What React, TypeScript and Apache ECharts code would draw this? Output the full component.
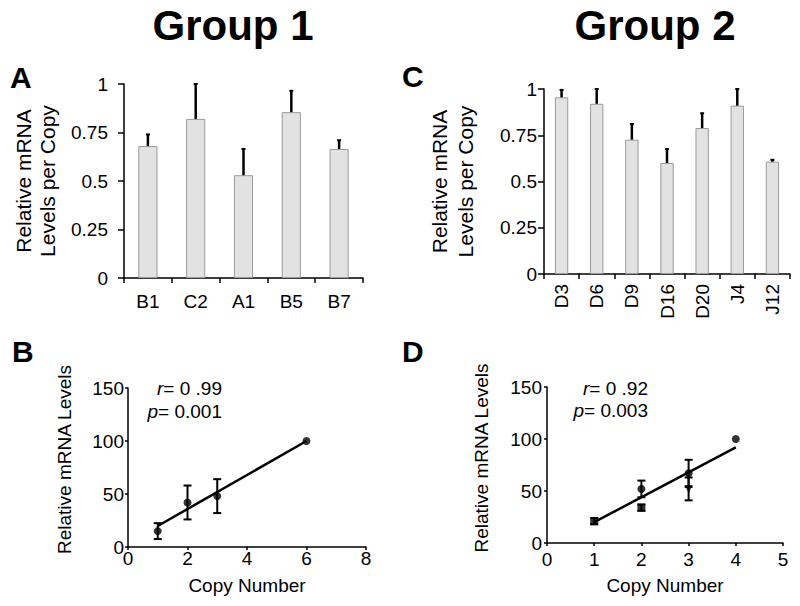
import React, { useEffect, useRef } from "react";
import * as echarts from "echarts";

// ---- Data ----
const catsA = ["B1", "C2", "A1", "B5", "B7"];
const valsA = [0.68, 0.82, 0.53, 0.855, 0.665];
const errA = [0.06, 0.18, 0.135, 0.11, 0.045];

const catsC = ["D3", "D6", "D9", "D16", "D20", "J4", "J12"];
const valsC = [0.955, 0.92, 0.726, 0.6, 0.789, 0.91, 0.607];
const errC = [0.04, 0.08, 0.085, 0.075, 0.08, 0.09, 0.01];

const copyB = [1, 2, 3, 6];
const levelB = [15, 42, 48, 100];
const errB = [7.5, 16, 16, 0];
const fitBx = [1, 6];
const fitBy = [19.8, 100];

const copyD = [1, 2, 2, 3, 3, 4];
const levelD = [21, 52, 34, 67, 52, 100];
const errD = [3, 8, 3, 13, 11, 0];
const shapeD = ["rect", "circle", "rect", "circle", "triangle", "circle"];
const fitDx = [1, 4];
const fitDy = [20, 92];

const barTicks = { min: 0, max: 1, interval: 0.25 };
const tickB = { min: 0, max: 8, interval: 2 };
const tickD = { min: 0, max: 5, interval: 1 };
const tickLevels = { min: 0, max: 150, interval: 50 };

const FONT = "Liberation Sans, Arial, Helvetica, sans-serif";
const BLACK = "#000";

function barErrRender(params: any, api: any) {
  const i = api.value(0);
  const v = api.value(1);
  const t = api.value(2);
  const base = api.coord([i, v]);
  const top = api.coord([i, t]);
  return {
    type: "group",
    children: [
      { type: "line", shape: { x1: base[0], y1: base[1], x2: top[0], y2: top[1] }, style: { stroke: BLACK, lineWidth: 2.5 } },
      { type: "line", shape: { x1: top[0] - 2, y1: top[1], x2: top[0] + 2, y2: top[1] }, style: { stroke: BLACK, lineWidth: 2 } },
    ],
  };
}

function scatterErrRender(params: any, api: any) {
  const x = api.value(0);
  const y = api.value(1);
  const e = api.value(2);
  if (!e) return { type: "group", children: [] };
  const lo = api.coord([x, y - e]);
  const hi = api.coord([x, y + e]);
  const w = 4;
  return {
    type: "group",
    children: [
      { type: "line", shape: { x1: lo[0], y1: lo[1], x2: hi[0], y2: hi[1] }, style: { stroke: BLACK, lineWidth: 2 } },
      { type: "line", shape: { x1: lo[0] - w, y1: lo[1], x2: lo[0] + w, y2: lo[1] }, style: { stroke: BLACK, lineWidth: 2 } },
      { type: "line", shape: { x1: hi[0] - w, y1: hi[1], x2: hi[0] + w, y2: hi[1] }, style: { stroke: BLACK, lineWidth: 2 } },
    ],
  };
}

const axisLine = { show: true, lineStyle: { color: BLACK, width: 1.5 } };

function catAxis(gridIndex: number, data: string[], extra: any) {
  return {
    type: "category",
    gridIndex,
    data,
    boundaryGap: true,
    axisLine,
    axisTick: { show: true, length: 5, alignWithLabel: false, lineStyle: { color: BLACK, width: 1.5 } },
    axisLabel: { color: BLACK, fontSize: 19, fontFamily: FONT, interval: 0, ...extra },
    splitLine: { show: false },
  };
}

function valAxis(gridIndex: number, ticks: any, labelMargin: number, tickLen: number, extra: any) {
  return {
    type: "value",
    gridIndex,
    min: ticks.min,
    max: ticks.max,
    interval: ticks.interval,
    axisLine,
    axisTick: { show: true, length: tickLen, lineStyle: { color: BLACK, width: 1.5 } },
    axisLabel: { color: BLACK, fontSize: 19, fontFamily: FONT, margin: labelMargin, showMinLabel: true, showMaxLabel: true },
    splitLine: { show: false },
    ...extra,
  };
}

function textEl(text: string, x: number, y: number, size: number, weight: string, align: string, rich?: any) {
  return {
    type: "text",
    x,
    y,
    style: {
      text,
      fill: BLACK,
      fontSize: size,
      fontWeight: weight,
      fontFamily: FONT,
      align,
      textAlign: align,
      verticalAlign: "middle",
      textVerticalAlign: "middle",
      rich,
    },
  };
}

const richStat = { i: { fontStyle: "italic", fontSize: 19, fontFamily: FONT, fill: BLACK, color: BLACK } };

export default function App() {
  const ref = useRef<HTMLDivElement>(null);
  useEffect(() => {
    if (!ref.current) return;
    const chart = echarts.init(ref.current, undefined, { renderer: "svg" });
    const nameStyle = { color: BLACK, fontSize: 19, fontFamily: FONT };
    const option: any = {
      animation: false,
      backgroundColor: "#fff",
      grid: [
        { left: 124, top: 84, width: 239, height: 194, outerBoundsMode: "none" },
        { left: 544, top: 89, width: 246, height: 185, outerBoundsMode: "none" },
        { left: 128, top: 388, width: 238, height: 159, outerBoundsMode: "none" },
        { left: 547, top: 387, width: 236, height: 156, outerBoundsMode: "none" },
      ],
      xAxis: [
        catAxis(0, catsA, { margin: 14 }),
        catAxis(1, catsC, { margin: 10, rotate: 90 }),
        {
          ...valAxis(2, tickB, 2, 3, {}),
          name: "Copy Number",
          nameLocation: "middle",
          nameGap: 29,
          nameTextStyle: nameStyle,
        },
        {
          ...valAxis(3, tickD, 7, 3, {}),
          name: "Copy Number",
          nameLocation: "middle",
          nameGap: 33,
          nameTextStyle: nameStyle,
        },
      ],
      yAxis: [
        valAxis(0, barTicks, 16, 6, {
          name: "Relative mRNA\nLevels per Copy",
          nameLocation: "middle",
          nameGap: 64,
          nameTextStyle: { ...nameStyle, fontSize: 21, lineHeight: 24.5 },
        }),
        valAxis(1, barTicks, 7, 6, {
          name: "Relative mRNA\nLevels per Copy",
          nameLocation: "middle",
          nameGap: 66,
          nameTextStyle: { ...nameStyle, fontSize: 21, lineHeight: 25.5 },
        }),
        valAxis(2, tickLevels, 4, 3, {
          name: "Relative mRNA Levels",
          nameLocation: "middle",
          nameGap: 54,
          nameTextStyle: { ...nameStyle, padding: [0, 0, 0, 16] },
        }),
        valAxis(3, tickLevels, 5, 3, {
          name: "Relative mRNA Levels",
          nameLocation: "middle",
          nameGap: 56,
          nameTextStyle: { ...nameStyle, padding: [0, 0, 0, 14] },
        }),
      ],
      series: [
        {
          type: "bar",
          xAxisIndex: 0,
          yAxisIndex: 0,
          data: valsA,
          barWidth: "40%",
          itemStyle: { color: "#e2e2e2", borderColor: "#9a9a9a", borderWidth: 1 },
        },
        {
          type: "custom",
          xAxisIndex: 0,
          yAxisIndex: 0,
          data: catsA.map((_, i) => [i, valsA[i], valsA[i] + errA[i]]),
          renderItem: barErrRender,
          z: 5,
        },
        {
          type: "bar",
          xAxisIndex: 1,
          yAxisIndex: 1,
          data: valsC,
          barWidth: "38%",
          itemStyle: { color: "#e2e2e2", borderColor: "#9a9a9a", borderWidth: 1 },
        },
        {
          type: "custom",
          xAxisIndex: 1,
          yAxisIndex: 1,
          data: catsC.map((_, i) => [i, valsC[i], valsC[i] + errC[i]]),
          renderItem: barErrRender,
          z: 5,
        },
        {
          type: "line",
          xAxisIndex: 2,
          yAxisIndex: 2,
          data: fitBx.map((x, i) => [x, fitBy[i]]),
          symbol: "none",
          lineStyle: { color: BLACK, width: 2.5 },
          z: 3,
        },
        {
          type: "custom",
          xAxisIndex: 2,
          yAxisIndex: 2,
          data: copyB.map((x, i) => [x, levelB[i], errB[i]]),
          renderItem: scatterErrRender,
          z: 4,
        },
        {
          type: "scatter",
          xAxisIndex: 2,
          yAxisIndex: 2,
          data: copyB.map((x, i) => [x, levelB[i]]),
          symbol: "circle",
          symbolSize: 8,
          itemStyle: { color: BLACK },
          z: 6,
        },
        {
          type: "line",
          xAxisIndex: 3,
          yAxisIndex: 3,
          data: fitDx.map((x, i) => [x, fitDy[i]]),
          symbol: "none",
          lineStyle: { color: BLACK, width: 2.5 },
          z: 3,
        },
        {
          type: "custom",
          xAxisIndex: 3,
          yAxisIndex: 3,
          data: copyD.map((x, i) => [x, levelD[i], errD[i]]),
          renderItem: scatterErrRender,
          z: 4,
        },
        {
          type: "scatter",
          xAxisIndex: 3,
          yAxisIndex: 3,
          data: copyD.map((x, i) => ({
            value: [x, levelD[i]],
            symbol: shapeD[i],
            symbolRotate: shapeD[i] === "triangle" ? 180 : 0,
          })),
          symbolSize: 8,
          itemStyle: { color: BLACK },
          z: 6,
        },
      ],
      graphic: [
        textEl("Group 1", 233, 25, 42, "bold", "center"),
        textEl("Group 2", 655, 25, 42, "bold", "center"),
        textEl("A", 10, 77.5, 30, "bold", "left"),
        textEl("B", 12, 351, 30, "bold", "left"),
        textEl("C", 402, 76, 30, "bold", "left"),
        textEl("D", 402, 351, 30, "bold", "left"),
        textEl("{i|r}= 0 .99", 222, 388, 19, "normal", "right", richStat),
        textEl("{i|p}= 0.001", 222, 411, 19, "normal", "right", richStat),
        textEl("{i|r}= 0 .92", 648, 388, 19, "normal", "right", richStat),
        textEl("{i|p}= 0.003", 648, 410, 19, "normal", "right", richStat),
      ],
    };
    chart.setOption(option);
    return () => chart.dispose();
  }, []);
  return (
    <div
      ref={ref}
      style={{ position: "fixed", left: 0, top: 0, width: 800, height: 606, background: "#fff" }}
    />
  );
}
